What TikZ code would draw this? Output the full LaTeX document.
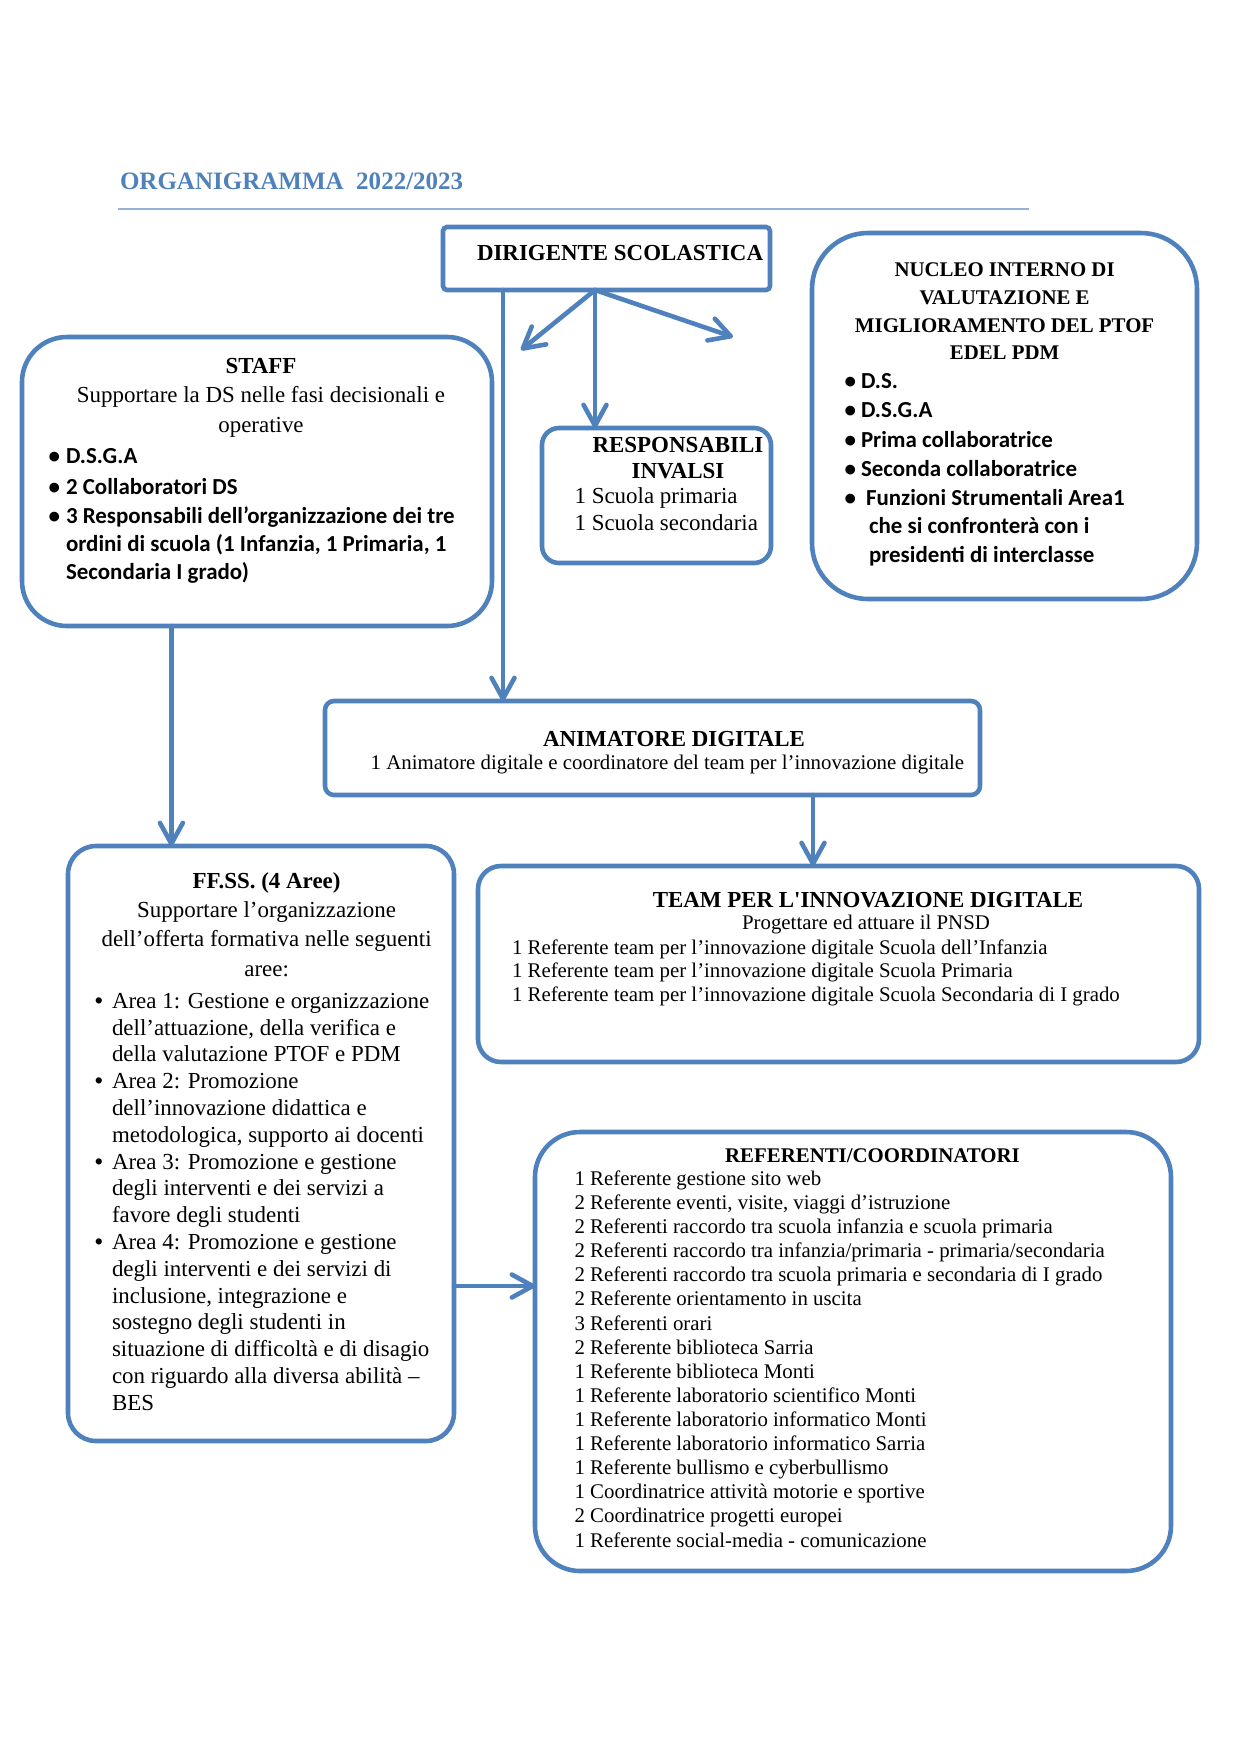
\documentclass[tikz,border=0pt]{standalone}
\usepackage{fontspec}
\setmainfont{Liberation Serif}
\newfontfamily\calib{Carlito}
\usetikzlibrary{arrows.meta}
\definecolor{bord}{HTML}{4F81BD}
\definecolor{rulec}{HTML}{95B3D7}
\newcommand\mkbox[6]{%
  \pgfmathsetmacro\bw{(#4-#2)*0.47967}%
  \pgfmathsetmacro\bh{(#5-#3)*0.47967}%
  \pgfmathsetmacro\br{#6*0.47967}%
  \node[boxst, minimum width=\bw pt, minimum height=\bh pt, rounded corners=\br pt] (#1) at ({(#2+#4)/2},{(#3+#5)/2}) {};}
\tikzset{
  boxst/.style={draw=bord, line width=2.2pt, inner sep=0pt, outer sep=0pt},
  arr/.style={draw=bord, line width=2.2pt, line cap=round, -{Straight Barb[length=10pt,width=11pt,round]}},
  tx/.style={inner sep=0pt, outer sep=0pt, text=black},
  tm/.style={tx, font=\fontsize{11}{13}\selectfont},
  tmb/.style={tx, font=\fontsize{11}{13}\selectfont\bfseries},
  ts/.style={tx, font=\fontsize{10}{12}\selectfont},
  tsb/.style={tx, font=\fontsize{10}{12}\selectfont\bfseries},
  cb/.style={tx, font=\calib\bfseries\fontsize{11}{13}\selectfont},
}
\begin{document}
\begin{tikzpicture}[x=0.47967pt, y=-0.47967pt]
\useasboundingbox (0,0) rectangle (1241,1755);
\fill[white] (0,0) rectangle (1241,1755);

% title
\node[tx, anchor=base west, text=bord, font=\fontsize{12}{14}\selectfont\bfseries] (title) at (120,189) {ORGANIGRAMMA\ \ 2022/2023};
\coordinate (r1) at (118,209);
\coordinate (r2) at (1029,209);
\draw[rulec, line width=0.8pt] (r1) -- (r2);

% boxes
\mkbox{dir}{443}{227}{770}{290}{4}
\mkbox{staff}{22}{337}{492}{626}{45}
\mkbox{resp}{542}{428}{771}{563}{17}
\mkbox{nucleo}{812}{233}{1197}{599}{56}
\mkbox{anim}{325}{701}{980}{795}{9}
\mkbox{ffss}{68}{846}{454}{1441}{28}
\mkbox{team}{478}{866}{1199}{1062}{23}
\mkbox{refer}{535}{1132}{1171}{1571}{45}

% connectors
\coordinate (xa) at (503,0);
\coordinate (fan) at (595,290);
\coordinate (tipL) at (521,350);
\coordinate (tipR) at (733,337);
\coordinate (xb) at (171.4,0);
\coordinate (xc) at (813,0);
\coordinate (yd) at (0,1286);
\draw[arr] (dir.south -| xa) -- (anim.north -| xa);
\draw[arr] (fan) -- (tipL);
\draw[arr] (fan) -- (tipR);
\draw[arr] (fan) -- (resp.north -| fan);
\draw[arr] (staff.south -| xb) -- (ffss.north -| xb);
\draw[arr] (anim.south -| xc) -- (team.north -| xc);
\draw[arr] (ffss.east |- yd) -- (refer.west |- yd);

% DIRIGENTE
\node[tmb, anchor=base west] (dirt) at (477,260) {DIRIGENTE SCOLASTICA};

% STAFF
\node[tmb, anchor=center] (st0) at (261,366) {STAFF};
\node[tm, anchor=mid] (st1) at (261,397.6) {Supportare la DS nelle fasi decisionali e};
\node[tm, anchor=mid] (st2) at (261,428) {operative};
\foreach \y [count=\i] in {459,489.4,518.6}
  \node[cb, anchor=mid east] (stb\i) at (60,\y) {•};
\node[cb, anchor=mid west] (sl1) at (66,459) {D.S.G.A};
\node[cb, anchor=mid west] (sl2) at (66,489.4) {2 Collaboratori DS};
\node[cb, anchor=mid west] (sl3) at (66,518.6) {3 Responsabili dell’organizzazione dei tre};
\node[cb, anchor=mid west] (sl4) at (66,546.6) {ordini di scuola (1 Infanzia, 1 Primaria, 1};
\node[cb, anchor=mid west] (sl5) at (66,574.6) {Secondaria I grado)};

% RESPONSABILI INVALSI
\node[tmb, anchor=center] (rs0) at (678,444.6) {RESPONSABILI};
\node[tmb, anchor=center] (rs1) at (678,471.5) {INVALSI};
\node[tm, anchor=mid west] (rs2) at (574.6,498.4) {1 Scuola primaria};
\node[tm, anchor=mid west] (rs3) at (574.6,525.3) {1 Scuola secondaria};

% NUCLEO
\node[tsb, anchor=center] (nu0) at (1004.6,270) {NUCLEO INTERNO DI};
\node[tsb, anchor=center] (nu1) at (1004.6,298) {VALUTAZIONE E};
\node[tsb, anchor=center] (nu2) at (1004.6,326) {MIGLIORAMENTO DEL PTOF};
\node[tsb, anchor=center] (nu3) at (1004.6,352.8) {EDEL PDM};
\foreach \y [count=\i] in {384,413,442.4,471.5,500.6}
  \node[cb, anchor=mid east] (nub\i) at (856,\y) {•};
\node[cb, anchor=mid west] (nl1) at (861,384) {D.S.};
\node[cb, anchor=mid west] (nl2) at (861,413) {D.S.G.A};
\node[cb, anchor=mid west] (nl3) at (861,442.4) {Prima collaboratrice};
\node[cb, anchor=mid west] (nl4) at (861,471.5) {Seconda collaboratrice};
\node[cb, anchor=mid west] (nl5) at (866,500.6) {Funzioni Strumentali Area1};
\node[cb, anchor=mid west] (nl6) at (869,528.6) {che si confronterà con i};
\node[cb, anchor=mid west] (nl7) at (869,557.8) {presidenti di interclasse};

% ANIMATORE
\node[tmb, anchor=center] (an0) at (674,739) {ANIMATORE DIGITALE};
\node[ts, anchor=mid west] (an1) at (370.7,765) {1 Animatore digitale e coordinatore del team per l’innovazione digitale};

% TEAM
\node[tmb, anchor=center] (tm0) at (868,900.5) {TEAM PER L\textquotesingle INNOVAZIONE DIGITALE};
\node[ts, anchor=mid] (tm1) at (866,925) {Progettare ed attuare il PNSD};
\node[ts, anchor=mid west] (tm2) at (512,950) {1 Referente team per l’innovazione digitale Scuola dell’Infanzia};
\node[ts, anchor=mid west] (tm3) at (512,973) {1 Referente team per l’innovazione digitale Scuola Primaria};
\node[ts, anchor=mid west] (tm4) at (512,997) {1 Referente team per l’innovazione digitale Scuola Secondaria di I grado};

% FF.SS.
\node[tmb, anchor=center] (ff0) at (266.6,882.6) {FF.SS. (4 Aree)};
\node[tm, anchor=mid] (ffa) at (266.6,912.8) {Supportare l’organizzazione};
\node[tm, anchor=mid] (ffb) at (266.6,942) {dell’offerta formativa nelle seguenti};
\node[tm, anchor=mid] (ffc) at (266.6,972) {aree:};
\foreach \j in {0,3,6,9}
  \node[tmb, anchor=mid west] (ffbul\j) at (95,{1003.5+\j*26.8}) {•};
\foreach \t [count=\i from 0] in {
  Area 1: Gestione e organizzazione,
  {dell’attuazione, della verifica e},
  della valutazione PTOF e PDM,
  Area 2: Promozione,
  dell’innovazione didattica e,
  {metodologica, supporto ai docenti},
  Area 3: Promozione e gestione,
  degli interventi e dei servizi a,
  favore degli studenti,
  Area 4: Promozione e gestione,
  degli interventi e dei servizi di,
  {inclusione, integrazione e},
  sostegno degli studenti in,
  situazione di difficoltà e di disagio,
  con riguardo alla diversa abilità –,
  BES}
  \node[tm, anchor=mid west] (ffl\i) at (112,{1003.5+\i*26.8}) {\t};

% REFERENTI
\node[tsb, anchor=center] (re0) at (872.5,1156) {REFERENTI/COORDINATORI};
\foreach \t [count=\i from 0] in {
  1 Referente gestione sito web,
  {2 Referente eventi, visite, viaggi d’istruzione},
  2 Referenti raccordo tra scuola infanzia e scuola primaria,
  2 Referenti raccordo tra infanzia/primaria - primaria/secondaria,
  2 Referenti raccordo tra scuola primaria e secondaria di I grado,
  2 Referente orientamento in uscita,
  3 Referenti orari,
  2 Referente biblioteca Sarria,
  1 Referente biblioteca Monti,
  1 Referente laboratorio scientifico Monti,
  1 Referente laboratorio informatico Monti,
  1 Referente laboratorio informatico Sarria,
  1 Referente bullismo e cyberbullismo,
  1 Coordinatrice attività motorie e sportive,
  2 Coordinatrice progetti europei,
  1 Referente social-media - comunicazione}
  \node[ts, anchor=mid west] (rl\i) at (574.6,{1180.5+\i*24.12}) {\t};
\end{tikzpicture}
\end{document}
